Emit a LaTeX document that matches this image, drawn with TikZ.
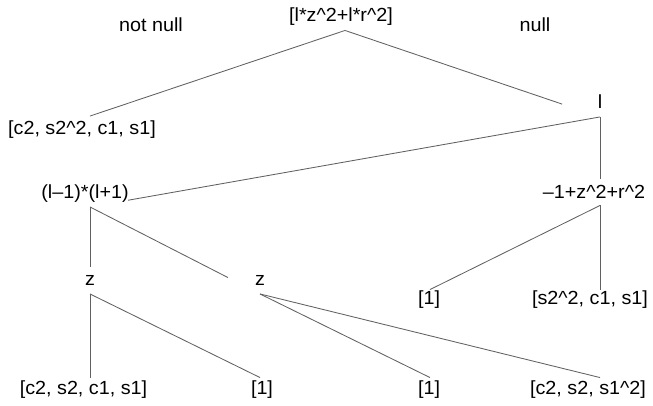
\documentclass[tikz,border=0pt]{standalone}
\usepackage{fontspec}
\newfontfamily\treefont[FakeStretch=1.04]{Liberation Sans}
\usetikzlibrary{positioning}

\begin{document}
\begin{tikzpicture}[
  x=1pt, y=-1pt,
  term/.style={
    font=\treefont\fontsize{19}{21}\selectfont,
    inner xsep=0pt, inner ysep=4.5pt,
    text height=13.5pt, text depth=4pt,
    text=black
  },
  branch/.style={line width=0.85pt, draw=black!62}
]
\useasboundingbox (0,0) rectangle (653,405);

\node[term]                (root)  at (341,17)    {[l*z\textasciicircum 2+l*r\textasciicircum 2]};
\node[term]                (nnull) at (151,27)    {not null};
\node[term]                (isnull) at (535,27)   {null};

\node[term]                (sA)    at (82,129.5)  {[c2, s2\textasciicircum 2, c1, s1]};
\node[term]                (vl)    at (600,103.5) {l};

\node[term]                (fac)   at (85,193.5)  {(l–1)*(l+1)};
\node[term, inner ysep=3pt] (poly) at (594,193.5) {–1+z\textasciicircum 2+r\textasciicircum 2};

\node[term]                (zL)    at (90,280.5)  {z};
\node[term]                (zR)    at (260,280.5) {z};
\node[term, inner ysep=1.5pt] (oneA) at (429,300) {[1]};
\node[term, inner ysep=1.5pt] (sB)   at (590,300) {[s2\textasciicircum 2, c1, s1]};

\node[term, inner ysep=3.5pt] (sC)   at (83.5,390) {[c2, s2, c1, s1]};
\node[term, inner ysep=3.5pt] (oneB) at (262,390)  {[1]};
\node[term, inner ysep=3.5pt] (oneC) at (429,390)  {[1]};
\node[term, inner ysep=3.5pt] (sD)   at (588,390)  {[c2, s2, s1\textasciicircum 2]};

\draw[branch] ([xshift=4pt]root.south) -- ([xshift=8pt]sA.north);
\draw[branch, shorten >=40pt] ([xshift=4pt]root.south) -- (vl.south);
\draw[branch, shorten >=38.6pt] (vl.south) -- ([xshift=5pt]fac.south);
\draw[branch] (vl.south) -- ([xshift=6pt,yshift=3pt]poly.north);
\draw[branch] ([xshift=5pt]fac.south) -- (zL.north);
\draw[branch, shorten >=36pt] ([xshift=5pt]fac.south) -- (zR.south);
\draw[branch] ([xshift=6pt]poly.south) -- ([xshift=1pt]oneA.north);
\draw[branch] ([xshift=6pt]poly.south) -- ([xshift=10pt]sB.north);
\draw[branch] (zL.south) -- ([xshift=6.5pt]sC.north);
\draw[branch] (zL.south) -- ([xshift=-2pt]oneB.north);
\draw[branch] (zR.south) -- ([xshift=1pt]oneC.north);
\draw[branch] (zR.south) -- ([xshift=12pt]sD.north);
\end{tikzpicture}
\end{document}
